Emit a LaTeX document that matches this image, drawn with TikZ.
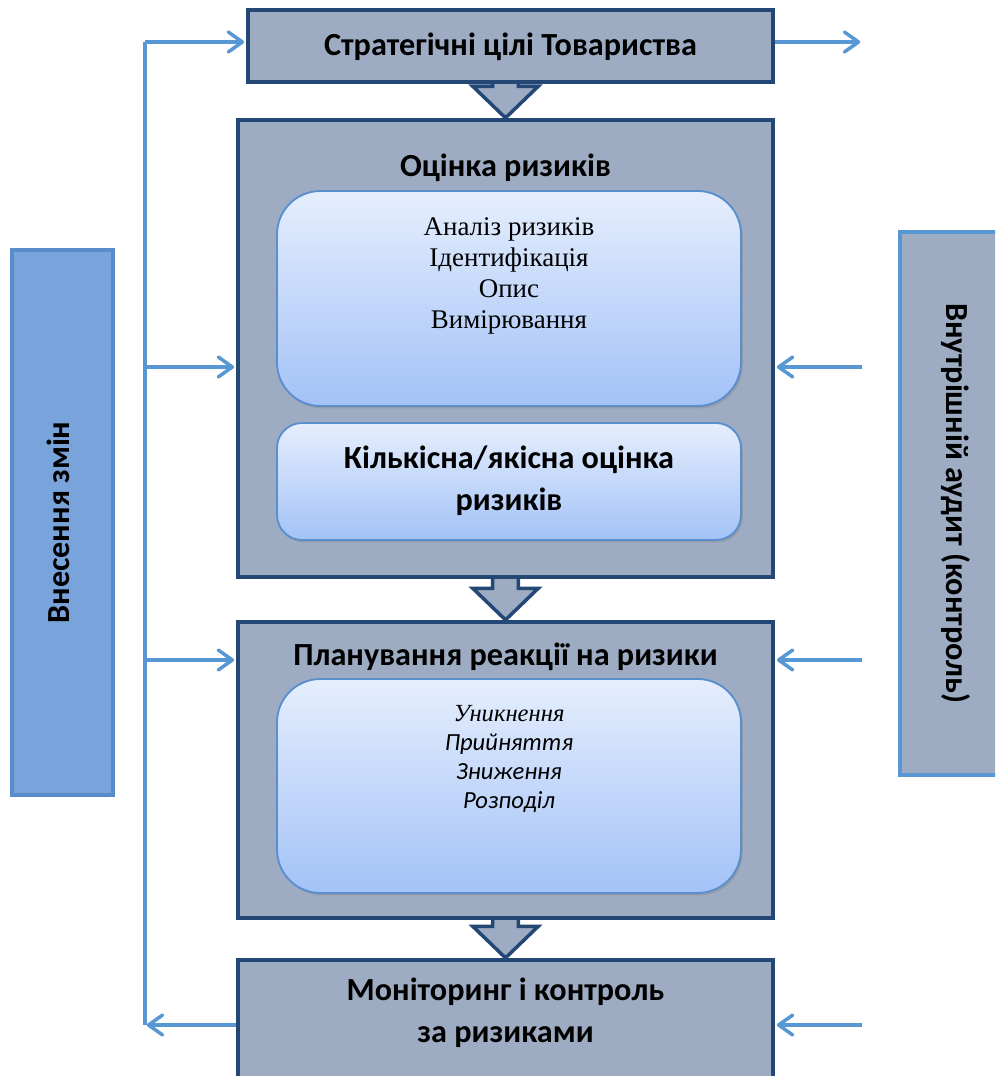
\documentclass[tikz,border=0pt]{standalone}
\usepackage{fontspec}
\setmainfont{Liberation Serif}
\newfontfamily\calibri{Carlito}
\usepackage{tikz}
\usetikzlibrary{arrows.meta,positioning,fit,calc,backgrounds,shadows}

\definecolor{frameblue}{RGB}{36,72,118}
\definecolor{boxgray}{RGB}{157,172,194}
\definecolor{linkblue}{RGB}{86,151,212}
\definecolor{sidefill}{RGB}{121,164,219}
\definecolor{sideline}{RGB}{88,140,202}
\definecolor{innertop}{RGB}{229,238,253}
\definecolor{innerbot}{RGB}{163,194,247}
\definecolor{innerline}{RGB}{90,143,205}

% hollow block arrow from one frame down to the next
\newcommand{\blockarrow}[2]{%
  \draw[blockarr] let \p1=(#1.south), \p2=(#2.north) in
    (\x2-11pt,\y1) -- (\x2-11pt,\y2+27pt) -- (\x2-28pt,\y2+27pt) -- (\p2)
    -- (\x2+28pt,\y2+27pt) -- (\x2+11pt,\y2+27pt) -- (\x2+11pt,\y1);}

\begin{document}
\begin{tikzpicture}[
    x=0.03cm, y=0.03cm,
    box/.style={rectangle, draw=frameblue, line width=3.6pt, fill=boxgray, inner sep=0pt},
    inner/.style={rectangle, rounded corners=1.3cm, draw=innerline, line width=1.6pt,
                  top color=innertop, bottom color=innerbot, inner sep=0pt,
                  drop shadow={shadow xshift=1.5pt, shadow yshift=-2pt, fill=black!45}},
    side/.style={rectangle, line width=4.2pt, inner sep=0pt},
    head/.style={font=\calibri\bfseries\fontsize{27.5}{30.6}\selectfont, align=center},
    plain/.style={font=\fontsize{23}{26.4}\selectfont, align=center},
    slant/.style={font=\calibri\itshape\fontsize{21}{24.6}\selectfont, align=center},
    link/.style={linkblue, line width=3pt},
    arr/.style={link, shorten >=1.5pt, -{Straight Barb[length=12pt,width=17pt,round]}},
    blockarr/.style={draw=frameblue, line width=3pt, fill=boxgray},
  ]
  \useasboundingbox (0,0) rectangle (995,-1076);
  \clip (0,0) rectangle (995,-1076);

  % Goals
  \node[box, fit={(248,-10) (773,-82)}] (goals) {};
  \node[head] (goalst) at ([yshift=-0.03cm]goals.center) {Стратегічні цілі Товариства};

  % Risk assessment
  \node[box, fit={(238,-120) (773,-577)}] (assess) {};
  \node[head] (assesst) at ([yshift=-1.5cm]assess.north) {Оцінка ризиків};
  \node[inner, fit={(277,-191) (741,-406)}] (analysis) {};
  \node[plain] (analysist) at ([yshift=-2.58cm]analysis.north)
    {Аналіз ризиків\\Ідентифікація\\Опис\\Вимірювання};
  \node[inner, rounded corners=0.75cm, fit={(277,-423) (741,-540)}] (quant) {};
  \node[head, font=\calibri\bfseries\fontsize{27.5}{36}\selectfont] (quantt)
    at ([yshift=0.03cm]quant.center) {Кількісна/якісна оцінка\\ризиків};

  % Response planning
  \node[box, fit={(238,-622) (773,-918)}] (plan) {};
  \node[head] (plant) at ([yshift=-1.1cm]plan.north) {Планування реакції на ризики};
  \node[inner, fit={(277,-679) (741,-893)}] (resp) {};
  \node[slant] (respt) at ([yshift=-2.43cm]resp.north)
    {{\rmfamily\itshape Уникнення}\\Прийняття\\Зниження\\Розподіл};

  % Monitoring
  \node[box, fit={(238,-960) (773,-1095)}] (monitor) {};
  \node[head, font=\calibri\bfseries\fontsize{27.5}{36}\selectfont] (monitort)
    at ([yshift=-1.65cm]monitor.north) {Моніторинг і контроль\\за ризиками};

  % Side bars
  \node[side, draw=sideline, fill=sidefill, fit={(12,-250) (113,-795)}] (change) {};
  \node[head, rotate=90] (changet) at ([xshift=-0.12cm]change.center) {Внесення змін};
  \node[side, draw=linkblue, fill=boxgray, fit={(900,-232) (1012,-775)}] (audit) {};
  \node[head, rotate=-90] (auditt) at (audit.center) {Внутрішній аудит (контроль)};

  % Block arrows
  \begin{scope}[on background layer]
    \blockarrow{goals}{assess}
    \blockarrow{assess}{plan}
    \blockarrow{plan}{monitor}
  \end{scope}

  % Feedback lines
  \foreach \n/\y in {a/42, b/367, c/660, d/1025} {
    \coordinate (L\n) at (145,-\y);
    \coordinate (R\n) at (862,-\y);
  }
  \draw[link] (La) -- (Ld);
  \draw[arr] (La) -- (La -| goals.west);
  \draw[arr] (Lb) -- (Lb -| assess.west);
  \draw[arr] (Lc) -- (Lc -| plan.west);
  \draw[arr] (Ld -| monitor.west) -- (Ld);

  \draw[arr] (Ra -| goals.east) -- (Ra);
  \draw[arr] (Rb) -- (Rb -| assess.east);
  \draw[arr] (Rc) -- (Rc -| plan.east);
  \draw[arr] (Rd) -- (Rd -| monitor.east);

\end{tikzpicture}
\end{document}
